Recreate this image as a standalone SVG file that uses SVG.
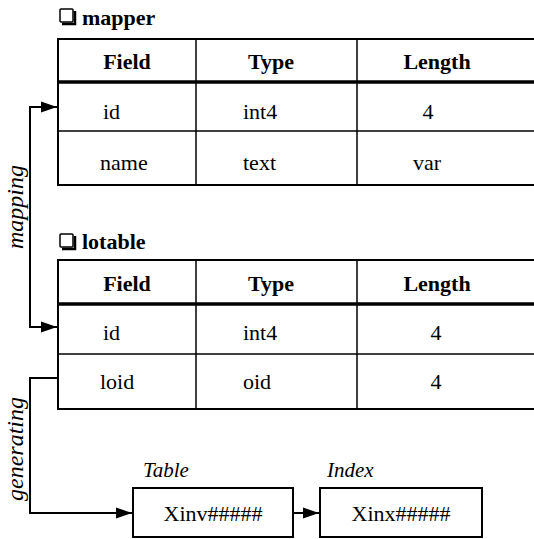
<svg xmlns="http://www.w3.org/2000/svg" width="534" height="539" viewBox="0 0 534 539">
<style>
text{font-family:"Liberation Serif","Times New Roman","Noto Serif","DejaVu Serif",serif;fill:#000}
.h{font-weight:bold;font-size:22px;text-anchor:middle}
.t{font-weight:bold;font-size:22px}
.c{font-size:22px}
.m{font-size:22px;text-anchor:middle}
.i{font-style:italic;font-size:21px}
.v{font-style:italic;font-size:24px;text-anchor:middle}
.b{fill:none;stroke:#000;stroke-width:2}
.r{fill:none;stroke:#000;stroke-width:1.5}
.hd{fill:none;stroke:#000;stroke-width:3.5}
.cn{fill:none;stroke:#000;stroke-width:2}
.cb{fill:#fff;stroke:#000;stroke-width:1.5}
</style>
<defs>
<marker id="ah" viewBox="0 0 16 12" refX="16" refY="6" markerWidth="16" markerHeight="12" markerUnits="userSpaceOnUse" orient="auto">
<path d="M0,0.5 L16,6 L0,11.5 Z" fill="#000"/>
</marker>
</defs>

<g id="mapper">
<path d="M62,24 H75 V11" fill="none" stroke="#000" stroke-width="2.5"/>
<rect class="cb" x="60" y="9" width="13" height="13" rx="1"/>
<text class="t" x="82" y="25">mapper</text>
<path class="b" d="M534,39 H58 V185 H534"/>
<line class="hd" x1="58" y1="82" x2="534" y2="82"/>
<line class="r" x1="58" y1="131" x2="534" y2="131"/>
<line class="r" x1="196" y1="39" x2="196" y2="185"/>
<line class="r" x1="357" y1="39" x2="357" y2="185"/>
<text class="h" x="127" y="69">Field</text>
<text class="h" x="271" y="69">Type</text>
<text class="h" x="437" y="69">Length</text>
<text class="c" x="103" y="119">id</text>
<text class="c" x="243" y="119">int4</text>
<text class="m" x="428" y="119">4</text>
<text class="c" x="100" y="170">name</text>
<text class="c" x="243" y="170">text</text>
<text class="c" x="413" y="170">var</text>
</g>

<g id="lotable">
<path d="M62,249 H75 V236" fill="none" stroke="#000" stroke-width="2.5"/>
<rect class="cb" x="60" y="234" width="13" height="13" rx="1"/>
<text class="t" x="82" y="249">lotable</text>
<path class="b" d="M534,260 H58 V409 H534"/>
<line class="hd" x1="58" y1="304" x2="534" y2="304"/>
<line class="r" x1="58" y1="354" x2="534" y2="354"/>
<line class="r" x1="196" y1="260" x2="196" y2="409"/>
<line class="r" x1="357" y1="260" x2="357" y2="409"/>
<text class="h" x="127" y="291">Field</text>
<text class="h" x="271" y="291">Type</text>
<text class="h" x="437" y="291">Length</text>
<text class="c" x="103" y="340">id</text>
<text class="c" x="243" y="340">int4</text>
<text class="m" x="436" y="340">4</text>
<text class="c" x="100" y="389">loid</text>
<text class="c" x="243" y="389">oid</text>
<text class="m" x="436" y="389">4</text>
</g>

<g id="table-box">
<text class="i" x="143" y="477">Table</text>
<rect class="b" x="133" y="488" width="160" height="49"/>
<text class="m" x="213" y="521">Xinv#####</text>
</g>

<g id="index-box">
<text class="i" x="327" y="477">Index</text>
<rect class="b" x="320" y="488" width="162" height="49"/>
<text class="m" x="401" y="521">Xinx#####</text>
</g>

<g id="connectors">
<path class="cn" d="M30,207 V107 H57" marker-end="url(#ah)"/>
<path class="cn" d="M30,207 V327 H57" marker-end="url(#ah)"/>
<path class="cn" d="M58,378 H30 V513 H132" marker-end="url(#ah)"/>
<line class="cn" x1="294" y1="513" x2="319" y2="513" marker-end="url(#ah)"/>
<text class="v" transform="translate(23,207) rotate(-90)">mapping</text>
<text class="v" transform="translate(23,449) rotate(-90)">generating</text>
</g>
</svg>
